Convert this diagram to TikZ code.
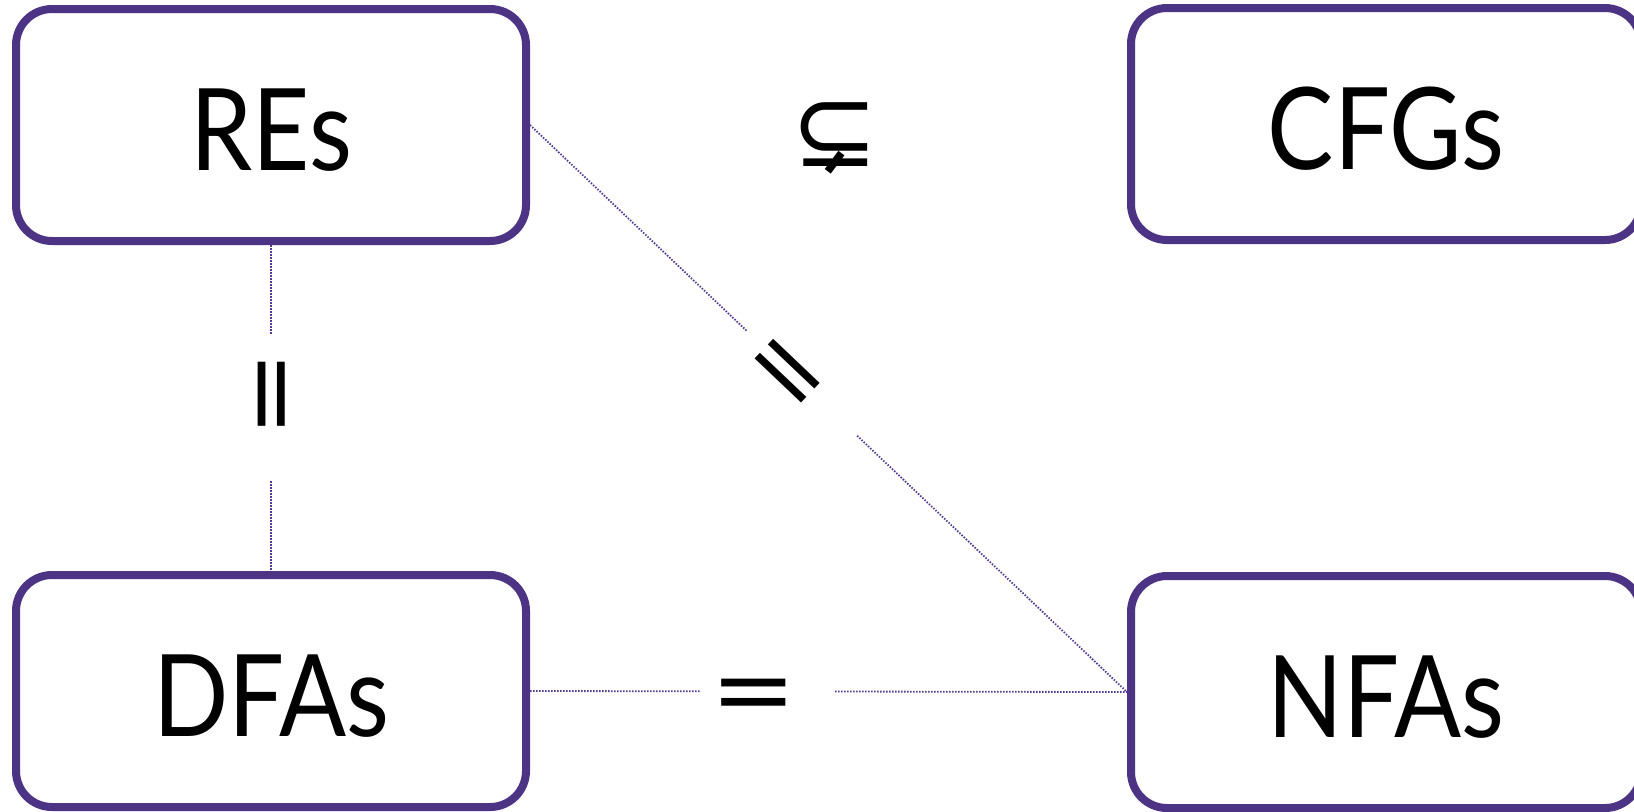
\documentclass[tikz,border=0pt]{standalone}
\usepackage{fontspec}
\usepackage{graphicx}
\setmainfont[FakeStretch=0.87]{Lato}
\newfontfamily\symfont{DejaVu Sans}
\usetikzlibrary{calc}
\definecolor{boxpurple}{RGB}{77,51,132}
\definecolor{linepurple}{RGB}{80,60,150}
\newcommand{\eqglyph}{\smash{\raisebox{-0.276em}{\scalebox{1.19}[0.8]{=}}}}
\tikzset{
  setbox/.style={draw=boxpurple, line width=4pt, rounded corners=18pt,
    minimum width=255pt, minimum height=116pt, fill=white,
    text height=45pt, text depth=0pt,
    font=\fontsize{57}{60}\selectfont},
  conn/.style={draw=linepurple, line width=0.9pt, dash pattern=on 0.75pt off 0.75pt},
  eqlabel/.style={font=\fontsize{72}{72}\selectfont, inner sep=0pt},
}
\begin{document}
\begin{tikzpicture}[x=0.5pt, y=-0.5pt]
\useasboundingbox (0,0) rectangle (1634,811);
\node[setbox] (REs) at (271,125) {REs};
\node[setbox] (CFGs) at (1386,124) {CFGs};
\node[setbox] (DFAs) at (271,691) {DFAs};
\node[setbox] (NFAs) at (1386,692) {NFAs};
% gap coordinates
\path (REs.south) -- (DFAs.north)
  coordinate[pos=0.275] (v1) coordinate[pos=0.725] (v2);
\path (DFAs.east) -- (NFAs.west)
  coordinate[pos=0.285] (h1) coordinate[pos=0.511] (h2);
\path (REs.east) -- (NFAs.west)
  coordinate[pos=0.363] (d1) coordinate[pos=0.548] (d2);
% connectors
\draw[conn] (REs.south) -- (v1);
\draw[conn] (v2) -- (DFAs.north);
\draw[conn] (DFAs.east) -- (h1);
\draw[conn] (h2) -- (NFAs.west);
\draw[conn] (REs.east) -- (d1);
\draw[conn] (d2) -- (NFAs.west);
% labels
\path (REs.south) -- (DFAs.north) node[eqlabel, pos=0.458, rotate=90] (eqv) {\eqglyph};
\path (DFAs.east) -- (NFAs.west) node[eqlabel, pos=0.375] (eqh) {\eqglyph};
\path (REs.east) -- (NFAs.west) node[eqlabel, pos=0.432, sloped] (eqd) {\eqglyph};
\node[inner sep=0pt, font=\symfont\fontsize{52}{54}\selectfont] (sub) at (835,138) {⊊};
\end{tikzpicture}
\end{document}
